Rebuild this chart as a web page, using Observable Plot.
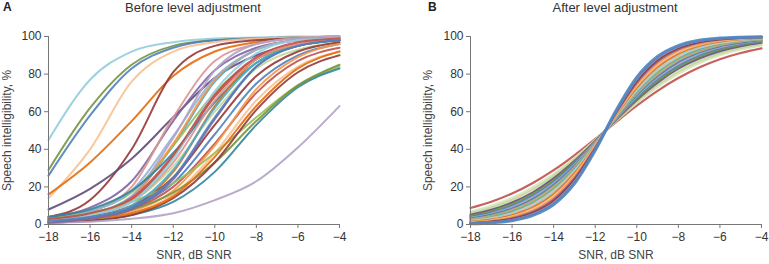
<!DOCTYPE html>
<html>
<head>
<meta charset="utf-8">
<script src="https://cdn.jsdelivr.net/npm/d3@7"></script>
<script src="https://cdn.jsdelivr.net/npm/@observablehq/plot@0.6"></script>
<style>
  body { margin: 0; background: #fff; font-family: "Liberation Sans", Arial, sans-serif; }
  #wrap { position: relative; width: 769px; height: 264px; overflow: hidden; }
  .panel { position: absolute; top: 0; }
  .letter { position: absolute; top: 0px; font-weight: bold; font-size: 12px; color: #222; line-height: 14px; }
  .title { position: absolute; top: 0px; font-size: 13px; color: #333; line-height: 15px; text-align: center; width: 300px; }
</style>
</head>
<body>
<div id="wrap">
  <div class="panel" id="pa" style="left:0px"></div>
  <div class="panel" id="pb" style="left:385px"></div>
  <div class="letter" style="left:3px">A</div>
  <div class="title" style="left:43px">Before level adjustment</div>
  <div class="letter" style="left:428px">B</div>
  <div class="title" style="left:465px">After level adjustment</div>
</div>
<script>
// ---- shared ticks / labels ----
const xTicks = [-18, -16, -14, -12, -10, -8, -6, -4];
const yTicks = [0, 20, 40, 60, 80, 100];
const xLabel = "SNR, dB SNR";
const yLabel = "Speech intelligibility, %";

// ---- Panel A: before level adjustment (values read at every 2 dB) ----
const snrA = [-18, -16, -14, -12, -10, -8, -6, -4];
const colorsA = [
  "#93CDDD", "#77933C", "#4F81BD", "#FAC090", "#E46C0A", "#953735", "#604A7B",
  "#8064A2", "#D99694", "#4BACC6", "#9BBB59", "#F79646", "#C0504D", "#95B3D7",
  "#B3A2C7", "#31859C", "#C3D69B", "#E46C0A", "#953735", "#4F81BD", "#C0504D",
  "#F79646", "#FAC090", "#9BBB59", "#31859C", "#77933C", "#953735", "#E46C0A",
  "#B3A2C7", "#4BACC6", "#8064A2", "#D99694", "#93CDDD", "#C0504D", "#4F81BD"
];
const valuesA = [
  [45, 77, 92, 97, 99, 99.5, 100, 100],
  [29, 62, 85, 95, 98, 99, 99.5, 100],
  [26, 58, 83, 94, 98, 99, 99.5, 100],
  [14, 40, 76, 92, 97, 99, 99.5, 100],
  [16, 33, 55, 79, 92, 97, 99, 99],
  [4, 13, 40, 81, 95, 98, 99, 99],
  [8, 19, 35, 57, 78, 90, 96, 98],
  [4, 9, 23, 55, 82, 94, 98, 99],
  [3, 7, 20, 57, 87, 96, 99, 99],
  [3, 6, 15, 42, 76, 93, 98, 99],
  [3, 7, 17, 42, 70, 88, 95, 98],
  [2, 5, 14, 43, 77, 93, 98, 99],
  [2, 5, 13, 36, 68, 88, 96, 98],
  [3, 7, 18, 47, 78, 93, 98, 99],
  [2, 5, 15, 46, 82, 96, 99, 100],
  [4, 8, 18, 38, 65, 86, 95, 98],
  [2, 5, 12, 31, 60, 83, 93, 97],
  [1, 3, 9, 28, 63, 88, 96, 99],
  [2, 4, 10, 25, 53, 79, 92, 97],
  [2, 4, 9, 22, 48, 75, 90, 96],
  [1, 3, 8, 20, 43, 70, 87, 94],
  [1, 3, 7, 18, 42, 72, 89, 96],
  [1, 2, 6, 16, 38, 66, 84, 92],
  [3, 6, 12, 22, 38, 57, 74, 84],
  [1, 2, 5, 12, 28, 53, 73, 83],
  [2, 4, 8, 17, 33, 55, 74, 85],
  [1, 2, 5, 14, 33, 61, 81, 90],
  [1, 3, 6, 15, 36, 63, 83, 92],
  [1, 1.5, 3, 6, 13, 23, 41, 63],
  [2, 4, 10, 29, 62, 86, 95, 98],
  [1, 3, 8, 24, 56, 84, 95, 98],
  [2, 5, 12, 33, 66, 88, 96, 99],
  [2, 5, 12, 35, 71, 91, 98, 99],
  [3, 6, 14, 37, 69, 89, 97, 99],
  [2, 4, 9, 25, 57, 84, 95, 98]
];

// ---- Panel B: after level adjustment (values read at every 1 dB) ----
const snrB = [-18, -17, -16, -15, -14, -13, -12, -11, -10, -9, -8, -7, -6, -5, -4];
const colorsB = [
  "#C0504D", "#D7E4BD", "#C3D69B", "#604A7B", "#77933C", "#4F81BD", "#B3A2C7",
  "#31859C", "#D99694", "#9BBB59", "#4BACC6", "#FAC090", "#93CDDD", "#E46C0A",
  "#FAC090", "#F79646", "#8064A2", "#953735", "#95B3D7", "#4F81BD"
];
const valuesB = [
  [8.8, 12.1, 16.5, 22.1, 28.9, 36.8, 45.5, 54.5, 63.2, 71.1, 77.9, 83.5, 87.9, 91.2, 93.7],
  [6.9, 10.0, 14.2, 19.8, 26.9, 35.4, 45.0, 55.0, 64.6, 73.1, 80.2, 85.8, 90.0, 93.1, 95.3],
  [6.1, 9.0, 13.1, 18.7, 25.9, 34.8, 44.8, 55.2, 65.2, 74.1, 81.3, 86.9, 91.0, 93.9, 95.9],
  [5.1, 7.8, 11.7, 17.1, 24.5, 33.7, 44.4, 55.6, 66.3, 75.5, 82.9, 88.3, 92.2, 94.9, 96.7],
  [4.5, 7.0, 10.8, 16.2, 23.6, 33.1, 44.2, 55.8, 66.9, 76.4, 83.8, 89.2, 93.0, 95.5, 97.1],
  [4.0, 6.3, 9.9, 15.3, 22.7, 32.4, 43.9, 56.1, 67.6, 77.3, 84.7, 90.1, 93.7, 96.0, 97.5],
  [3.5, 5.7, 9.1, 14.4, 21.8, 31.8, 43.7, 56.3, 68.2, 78.2, 85.6, 90.9, 94.3, 96.5, 97.9],
  [3.1, 5.1, 8.4, 13.5, 21.0, 31.1, 43.4, 56.6, 68.9, 79.0, 86.5, 91.6, 94.9, 96.9, 98.2],
  [2.7, 4.6, 7.8, 12.7, 20.2, 30.5, 43.2, 56.8, 69.5, 79.8, 87.3, 92.2, 95.4, 97.3, 98.4],
  [2.4, 4.2, 7.1, 12.0, 19.4, 29.8, 42.9, 57.1, 70.2, 80.6, 88.0, 92.9, 95.8, 97.6, 98.6],
  [2.1, 3.7, 6.6, 11.3, 18.6, 29.2, 42.7, 57.3, 70.8, 81.4, 88.7, 93.4, 96.3, 97.9, 98.8],
  [1.9, 3.4, 6.0, 10.6, 17.9, 28.6, 42.4, 57.6, 71.4, 82.1, 89.4, 94.0, 96.6, 98.1, 99.0],
  [1.6, 3.0, 5.5, 9.9, 17.1, 28.0, 42.2, 57.8, 72.0, 82.9, 90.1, 94.5, 97.0, 98.4, 99.1],
  [1.4, 2.6, 4.9, 9.0, 16.1, 27.1, 41.8, 58.2, 72.9, 83.9, 91.0, 95.1, 97.4, 98.6, 99.3],
  [1.1, 2.2, 4.3, 8.2, 15.1, 26.2, 41.5, 58.5, 73.8, 84.9, 91.8, 95.7, 97.8, 98.9, 99.4],
  [0.9, 1.9, 3.8, 7.4, 14.2, 25.4, 41.1, 58.9, 74.6, 85.8, 92.6, 96.2, 98.1, 99.1, 99.5],
  [0.8, 1.6, 3.3, 6.8, 13.3, 24.5, 40.7, 59.3, 75.5, 86.7, 93.2, 96.7, 98.4, 99.2, 99.6],
  [0.6, 1.4, 2.9, 6.1, 12.5, 23.7, 40.4, 59.6, 76.3, 87.5, 93.9, 97.1, 98.6, 99.4, 99.7],
  [0.5, 1.1, 2.4, 5.4, 11.4, 22.6, 39.9, 60.1, 77.4, 88.6, 94.6, 97.6, 98.9, 99.5, 99.8],
  [0.4, 0.9, 2.1, 4.9, 10.7, 21.8, 39.5, 60.5, 78.2, 89.3, 95.1, 97.9, 99.1, 99.6, 99.8]
];

function rowsFor(snr, values) {
  return values.map((vals) => vals.map((v, j) => ({snr: snr[j], value: v})));
}

function panel(snr, values, colors, opts) {
  const series = rowsFor(snr, values);
  const marks = [
    ...series.map((data, i) => Plot.line(data, {
      x: "snr", y: "value", stroke: colors[i], strokeWidth: opts.sw ? opts.sw[i] : 2,
      strokeOpacity: 0.9, curve: "monotone-x"
    })),
    Plot.ruleY([0], {stroke: "#777", strokeWidth: 1}),
    Plot.ruleX([-18], {stroke: "#777", strokeWidth: 1}),
    Plot.axisX({ticks: xTicks, tickSize: 4, stroke: "#777", fill: "#333", fontSize: 12,
      label: null, tickPadding: 4}),
    Plot.axisY({ticks: yTicks, tickSize: 4, stroke: "#777", fill: "#333", fontSize: 12,
      label: null, tickPadding: 3}),
    Plot.text([xLabel], {frameAnchor: "bottom", dy: 34, fill: "#444", fontSize: 12}),
    Plot.text([yLabel], {frameAnchor: "left", rotate: -90, dx: opts.yLabelDx, textAnchor: "middle", fill: "#444", fontSize: 12})
  ];
  return Plot.plot({
    width: 384, height: 264,
    marginTop: 36, marginBottom: 40,
    marginLeft: opts.ml, marginRight: opts.mr,
    x: {domain: [-18, -4]},
    y: {domain: [0, 100]},
    style: {fontFamily: "'Liberation Sans', Arial, sans-serif", fontSize: "12px", color: "#333", background: "transparent"},
    marks
  });
}

const swB = colorsB.map((c, i) => i === colorsB.length - 1 ? 3.2 : 2.2);
document.getElementById("pa").appendChild(panel(snrA, valuesA, colorsA, {ml: 48, mr: 45, yLabelDx: -41}));
document.getElementById("pb").appendChild(panel(snrB, valuesB, colorsB, {ml: 85, mr: 8, yLabelDx: -42, sw: swB}));
</script>
</body>
</html>
